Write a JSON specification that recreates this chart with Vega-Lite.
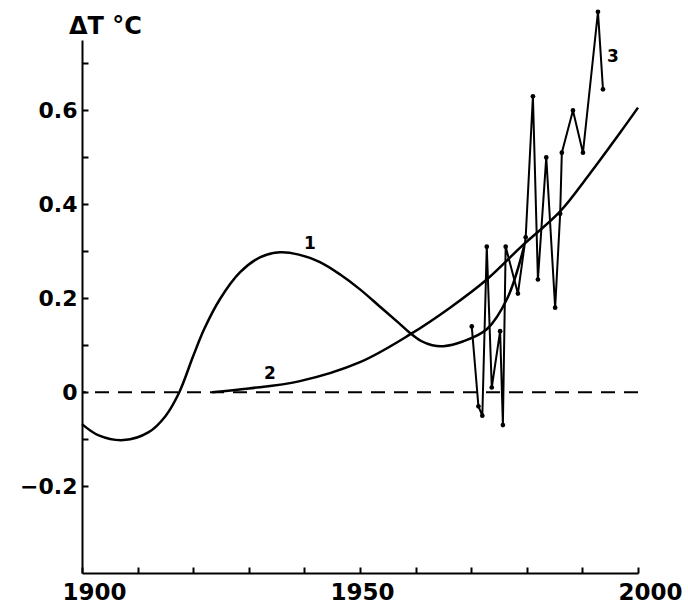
{
  "$schema": "https://vega.github.io/schema/vega-lite/v6.json",
  "width": 556,
  "height": 533,
  "autosize": {"type": "none"},
  "padding": {"left": 82, "top": 40, "right": 50, "bottom": 36},
  "background": "white",
  "config": {
    "view": {"stroke": null},
    "font": "DejaVu Sans",
    "axis": {"grid": false, "domainColor": "#000", "domainWidth": 2, "tickColor": "#000", "tickWidth": 2, "labelColor": "#000", "titleColor": "#000", "labelFont": "DejaVu Sans", "labelFontWeight": "bold", "labelFontSize": 22, "titleFont": "DejaVu Sans"}
  },
  "datasets": {
    "curves": [
      {"series": "1", "year": 1900, "dT": -0.068},
      {"series": "1", "year": 1903, "dT": -0.092},
      {"series": "1", "year": 1907.5, "dT": -0.102},
      {"series": "1", "year": 1912, "dT": -0.085},
      {"series": "1", "year": 1915, "dT": -0.051},
      {"series": "1", "year": 1917.5, "dT": 0.0},
      {"series": "1", "year": 1920, "dT": 0.077},
      {"series": "1", "year": 1922, "dT": 0.135},
      {"series": "1", "year": 1924.8, "dT": 0.198},
      {"series": "1", "year": 1928.4, "dT": 0.255},
      {"series": "1", "year": 1932, "dT": 0.287},
      {"series": "1", "year": 1935.6, "dT": 0.298},
      {"series": "1", "year": 1939, "dT": 0.293},
      {"series": "1", "year": 1942.8, "dT": 0.277},
      {"series": "1", "year": 1946.5, "dT": 0.25},
      {"series": "1", "year": 1950, "dT": 0.219},
      {"series": "1", "year": 1953.5, "dT": 0.183},
      {"series": "1", "year": 1957, "dT": 0.147},
      {"series": "1", "year": 1959, "dT": 0.126},
      {"series": "1", "year": 1961, "dT": 0.109},
      {"series": "1", "year": 1963, "dT": 0.1},
      {"series": "1", "year": 1965, "dT": 0.098},
      {"series": "1", "year": 1968.5, "dT": 0.108},
      {"series": "1", "year": 1972.8, "dT": 0.134},
      {"series": "1", "year": 1976.5, "dT": 0.2},
      {"series": "1", "year": 1979.5, "dT": 0.31},
      {"series": "2", "year": 1923.4, "dT": 0.0},
      {"series": "2", "year": 1930, "dT": 0.008},
      {"series": "2", "year": 1939, "dT": 0.023},
      {"series": "2", "year": 1950, "dT": 0.064},
      {"series": "2", "year": 1959, "dT": 0.123},
      {"series": "2", "year": 1966.2, "dT": 0.18},
      {"series": "2", "year": 1972.8, "dT": 0.24},
      {"series": "2", "year": 1979, "dT": 0.31},
      {"series": "2", "year": 1986, "dT": 0.385},
      {"series": "2", "year": 1991, "dT": 0.46},
      {"series": "2", "year": 1996.8, "dT": 0.553},
      {"series": "2", "year": 2000, "dT": 0.606}
    ],
    "obs": [
      {"year": 1970.1, "dT": 0.14},
      {"year": 1971.3, "dT": -0.03},
      {"year": 1972.0, "dT": -0.05},
      {"year": 1972.8, "dT": 0.31},
      {"year": 1973.7, "dT": 0.01},
      {"year": 1975.2, "dT": 0.13},
      {"year": 1975.7, "dT": -0.07},
      {"year": 1976.2, "dT": 0.31},
      {"year": 1978.4, "dT": 0.21},
      {"year": 1979.8, "dT": 0.33},
      {"year": 1981.1, "dT": 0.63},
      {"year": 1982.0, "dT": 0.24},
      {"year": 1983.5, "dT": 0.5},
      {"year": 1985.1, "dT": 0.18},
      {"year": 1986.0, "dT": 0.38},
      {"year": 1986.3, "dT": 0.51},
      {"year": 1988.3, "dT": 0.6},
      {"year": 1990.1, "dT": 0.51},
      {"year": 1992.8, "dT": 0.81},
      {"year": 1993.7, "dT": 0.645}
    ],
    "labels": [
      {"text": "1", "year": 1941, "dT": 0.315},
      {"text": "2", "year": 1933.8, "dT": 0.038},
      {"text": "3", "year": 1995.5, "dT": 0.713}
    ],
    "baseline": [
      {"dT": 0}
    ]
  },
  "encoding": {
    "x": {
      "field": "year", "type": "quantitative",
      "scale": {"domain": [1900, 2000], "nice": false, "zero": false},
      "axis": {
        "title": null,
        "values": [1900, 1910, 1920, 1930, 1940, 1950, 1960, 1970, 1980, 1990, 2000],
        "labelExpr": "datum.value % 50 == 0 ? format(datum.value, 'd') : ''",
        "tickSize": -6,
        "labelPadding": 14,
        "labelOffset": {"condition": {"test": "datum.value == 1950", "value": 2}, "value": 12},
        "labelFontSize": 23,
        "labelFlush": false
      }
    },
    "y": {
      "field": "dT", "type": "quantitative",
      "scale": {"domain": [-0.385, 0.75], "nice": false, "zero": false},
      "axis": {
        "title": "ΔT °C",
        "titleAngle": 0,
        "titleAlign": "center",
        "titleBaseline": "alphabetic",
        "titleX": 23,
        "titleY": -7,
        "titleFontSize": 24,
        "titleFontWeight": "bold",
        "values": [-0.2, -0.1, 0, 0.1, 0.2, 0.3, 0.4, 0.5, 0.6, 0.7],
        "labelExpr": "abs(round(datum.value * 10)) % 2 == 0 ? format(datum.value, '.1~f') : ''",
        "tickSize": -6,
        "labelPadding": 11,
        "labelFlush": false
      }
    }
  },
  "layer": [
    {
      "data": {"name": "baseline"},
      "mark": {"type": "rule", "color": "#000", "strokeWidth": 2, "strokeDash": [14, 9]},
      "encoding": {"x": null}
    },
    {
      "data": {"name": "curves"},
      "mark": {"type": "line", "color": "#000", "strokeWidth": 2.5, "interpolate": "catmull-rom"},
      "encoding": {"detail": {"field": "series"}}
    },
    {
      "data": {"name": "obs"},
      "mark": {"type": "line", "color": "#000", "strokeWidth": 2, "point": {"filled": true, "color": "#000", "size": 22}}
    },
    {
      "data": {"name": "labels"},
      "mark": {"type": "text", "color": "#000", "font": "DejaVu Sans", "fontWeight": "bold", "fontSize": 17},
      "encoding": {"text": {"field": "text"}}
    }
  ]
}
